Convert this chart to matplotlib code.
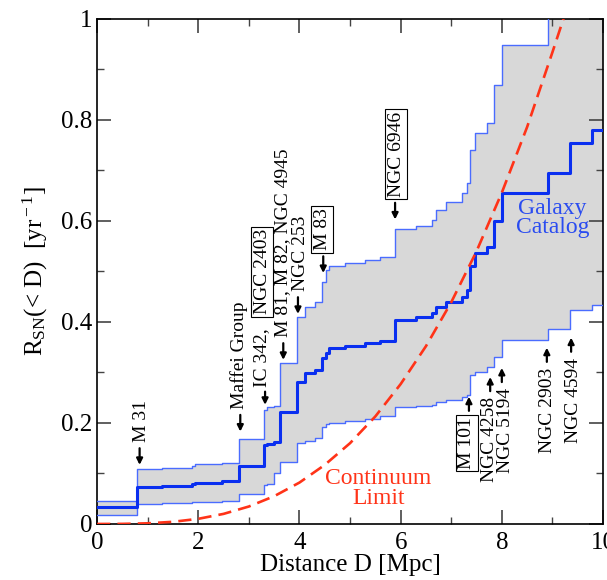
import numpy as np
import matplotlib
matplotlib.use('Agg')
import matplotlib.pyplot as plt
from matplotlib.ticker import MultipleLocator, FixedFormatter, FixedLocator

plt.rcParams['font.family'] = ['Liberation Serif', 'DejaVu Serif']
plt.rcParams['mathtext.fontset'] = 'custom'
plt.rcParams['mathtext.rm'] = 'Liberation Serif'
plt.rcParams['mathtext.it'] = 'Liberation Serif:italic'

# cumulative SN rate steps (value after each step)
dist = [0.00, 0.78, 1.28, 1.87, 1.94, 2.46, 2.80, 3.30, 3.36, 3.50, 3.62, 3.95,
        4.10, 4.30, 4.45, 4.52, 4.58, 4.90, 5.30, 5.60, 5.89, 6.30, 6.62, 6.70,
        6.90, 7.22, 7.31, 7.37, 7.47, 7.70, 7.84, 8.00, 8.91, 9.35, 9.78, 10.0]
rate_low = [0.017, 0.040, 0.041, 0.043, 0.044, 0.046, 0.059, 0.078, 0.080, 0.100,
            0.123, 0.160, 0.165, 0.170, 0.193, 0.198, 0.200, 0.204, 0.208, 0.213,
            0.232, 0.234, 0.236, 0.241, 0.246, 0.251, 0.256, 0.295, 0.300, 0.310,
            0.331, 0.364, 0.387, 0.424, 0.434, 0.434]
rate_mid = [0.034, 0.074, 0.076, 0.080, 0.082, 0.086, 0.115, 0.156, 0.158, 0.163,
            0.222, 0.282, 0.299, 0.305, 0.328, 0.338, 0.349, 0.353, 0.358, 0.363,
            0.404, 0.410, 0.418, 0.430, 0.440, 0.450, 0.463, 0.510, 0.536, 0.549,
            0.600, 0.655, 0.694, 0.755, 0.780, 0.780]
rate_high = [0.046, 0.108, 0.110, 0.115, 0.118, 0.121, 0.168, 0.226, 0.232, 0.234,
             0.318, 0.410, 0.430, 0.440, 0.480, 0.503, 0.510, 0.516, 0.522, 0.528,
             0.585, 0.590, 0.602, 0.622, 0.638, 0.655, 0.675, 0.740, 0.774, 0.794,
             0.869, 0.948, 1.100, 1.150, 1.170, 1.170]

# continuum limit (dashed)
cont_d = [0.0, 0.5, 1.0, 1.5, 2.0, 2.5, 3.0, 3.5, 4.0, 4.5, 5.0, 5.5, 6.0, 6.5,
          7.0, 7.5, 8.0, 8.5, 9.0, 9.25]
cont_r = [0.0, 0.0002, 0.0013, 0.0043, 0.0102, 0.020, 0.0346, 0.055, 0.082, 0.117,
          0.160, 0.213, 0.277, 0.352, 0.439, 0.540, 0.656, 0.786, 0.934, 1.01]

# galaxy labels above the band (arrow down)
top_names = ['M 31', 'Maffei Group', 'M 81, M 82, NGC 4945', 'NGC 253', 'M 83', 'NGC 6946']
top_text_x = [0.87, 2.81, 3.67, 4.02, 4.45, 5.91]
top_text_y = [0.162, 0.228, 0.370, 0.461, 0.542, 0.648]
top_arrow_x = [0.84, 2.83, 3.68, 3.97, 4.47, 5.89]
top_boxed = [False, False, False, False, True, True]

# galaxy labels below the band (arrow up)
bot_names = ['M 101', 'NGC 4258', 'NGC 5194', 'NGC 2903', 'NGC 4594']
bot_text_x = [7.31, 7.76, 8.07, 8.91, 9.41]
bot_text_y = [0.212, 0.251, 0.269, 0.309, 0.329]
bot_arrow_x = [7.35, 7.77, 8.00, 8.89, 9.37]
bot_boxed = [True, False, False, False, False]

fig = plt.figure(figsize=(6.07, 5.8), dpi=100)
ax = fig.add_axes([0.16, 0.0966, 0.8334, 0.8707])

ax.fill_between(dist, rate_low, rate_high, step='post', color='#d8d8d8', lw=0, zorder=1)
ax.step(dist, rate_low, where='post', color='#4a6cff', lw=1.0, zorder=3)
ax.step(dist, rate_high, where='post', color='#4a6cff', lw=1.0, zorder=3)
ax.step(dist, rate_mid, where='post', color='#0a2ff0', lw=2.2, zorder=4)
ax.plot(cont_d, cont_r, color='#ff3318', lw=1.9, dashes=(5, 2.7), zorder=5)

fs = 14
box = dict(boxstyle='square,pad=0.12', fc='white', ec='k', lw=0.8)
arr = dict(arrowstyle='-|>', color='k', lw=1.6, mutation_scale=9, shrinkA=0, shrinkB=0)

for name, tx, ty, axx, boxed in zip(top_names, top_text_x, top_text_y, top_arrow_x, top_boxed):
    ax.text(tx, ty, name, rotation=90, ha='center', va='bottom', fontsize=fs,
            bbox=box if boxed else None, zorder=6)
    ax.annotate('', xy=(axx, ty - 0.045), xytext=(axx, ty - 0.012), arrowprops=arr, zorder=6)

# IC 342 with boxed NGC 2403
ax.text(3.26, 0.271, 'IC 342,', rotation=90, ha='center', va='bottom', fontsize=fs, zorder=6)
ax.text(3.26, 0.415, 'NGC 2403', rotation=90, ha='center', va='bottom', fontsize=fs,
        bbox=box, zorder=6)
ax.annotate('', xy=(3.32, 0.236), xytext=(3.32, 0.262), arrowprops=arr, zorder=6)

for name, tx, ty, axx, boxed in zip(bot_names, bot_text_x, bot_text_y, bot_arrow_x, bot_boxed):
    ax.text(tx, ty, name, rotation=90, ha='center', va='top', fontsize=fs,
            bbox=box if boxed else None, zorder=6)
    ax.annotate('', xy=(axx, ty + 0.04), xytext=(axx, ty + 0.012), arrowprops=arr, zorder=6)

ax.text(9.0, 0.606, 'Galaxy\nCatalog', color='#2a4cf0', fontsize=17, ha='center',
        va='center', linespacing=0.9, zorder=6)
ax.text(5.56, 0.07, 'Continuum\nLimit', color='#ff3318', fontsize=17, ha='center',
        va='center', linespacing=0.9, zorder=6)

ax.set_xlim(0, 10)
ax.set_ylim(0, 1)
ax.xaxis.set_major_locator(MultipleLocator(2))
ax.xaxis.set_minor_locator(MultipleLocator(1))
ax.yaxis.set_major_locator(FixedLocator([0, 0.2, 0.4, 0.6, 0.8, 1.0]))
ax.yaxis.set_major_formatter(FixedFormatter(['0', '0.2', '0.4', '0.6', '0.8', '1']))
ax.yaxis.set_minor_locator(MultipleLocator(0.1))
ax.tick_params(which='both', direction='in', top=True, right=True, colors='#444444',
               labelcolor='k', labelsize=18)
ax.tick_params(which='major', length=10, width=1.2)
ax.tick_params(which='minor', length=5, width=1.0)
ax.tick_params(axis='x', pad=6)
for s in ax.spines.values():
    s.set_linewidth(1.2)

ax.set_xlabel('Distance D [Mpc]', fontsize=18, labelpad=0)
ax.set_ylabel(r'R$_{\rm SN}$(< D)  [yr$^{\rm -1}$]', fontsize=18, labelpad=8)

fig.savefig('out.png', dpi=100)
